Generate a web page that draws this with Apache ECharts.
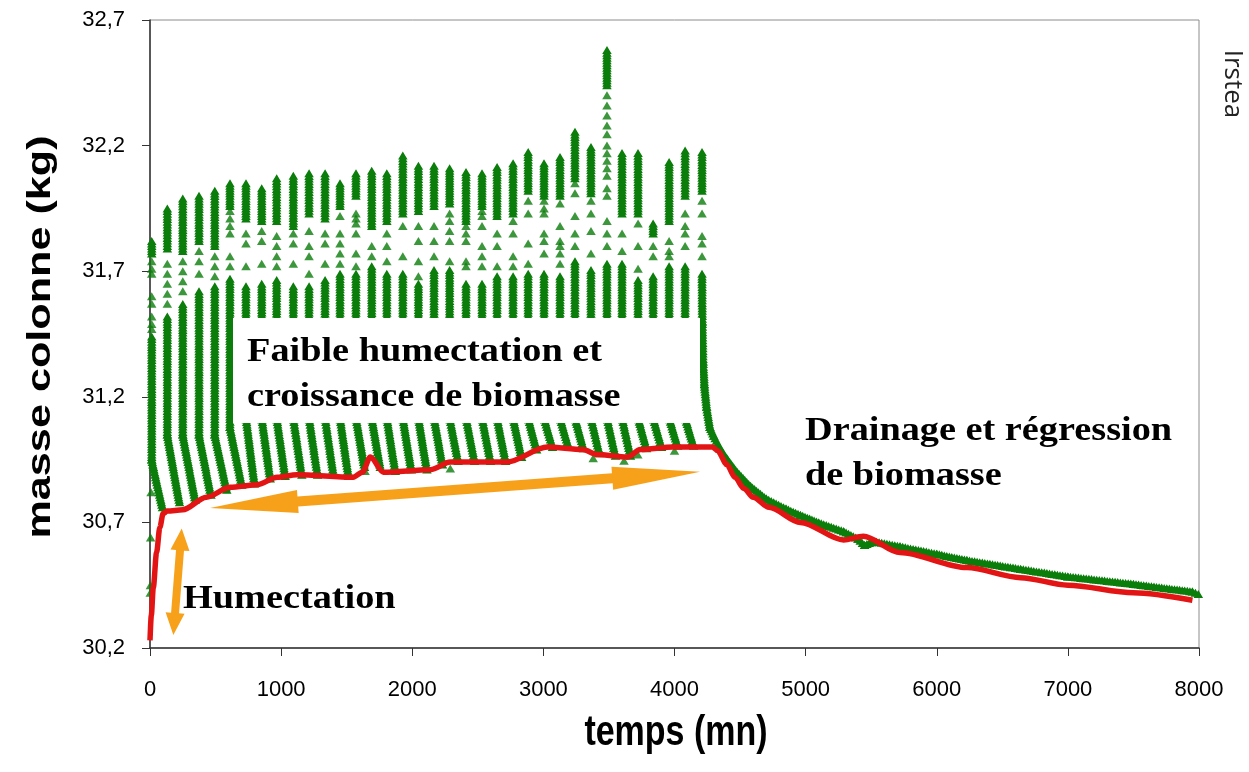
<!DOCTYPE html>
<html>
<head>
<meta charset="utf-8">
<title>masse colonne</title>
<script src="https://cdn.jsdelivr.net/npm/echarts@6/dist/echarts.min.js"></script>
<style>
  html, body { margin: 0; padding: 0; background: #fff; }
  #chart { width: 1249px; height: 772px; }
</style>
</head>
<body>
<div id="chart"></div>
<script>
// axes
const xTicks = [0, 1000, 2000, 3000, 4000, 5000, 6000, 7000, 8000]
const yTicks = [30.2, 30.7, 31.2, 31.7, 32.2, 32.7]

// wetting cycles (one column of triangles each)
const cycleT = [13, 132, 250, 374, 494, 610, 732, 852, 966, 1093, 1213, 1335, 1449, 1571, 1691, 1806, 1928, 2047, 2166, 2285,
  2410, 2532, 2647, 2769, 2884, 3005, 3127, 3241, 3363, 3485, 3600, 3722, 3837, 3959, 4081, 4210]
const peakMass = [31.82, 31.95, 31.99, 32.00, 32.02, 32.05, 32.05, 32.03, 32.07, 32.08, 32.09, 32.09, 32.05, 32.09, 32.10, 32.09, 32.16, 32.12, 32.12, 32.11,
  32.095, 32.09, 32.115, 32.13, 32.175, 32.13, 32.155, 32.255, 32.195, 32.58, 32.17, 32.17, 31.89, 32.135, 32.18, 32.175]
const topLowMass = [31.77, 31.79, 31.78, 31.82, 31.80, 31.96, 31.91, 31.90, 31.90, 31.88, 31.93, 31.91, 31.96, 32.00, 31.88, 31.90, 31.93, 31.94, 31.96, 31.97,
  31.90, 31.96, 31.92, 31.93, 32.02, 32.00, 32.00, 32.07, 32.01, 32.44, 31.93, 31.93, 31.85, 31.90, 32.00, 32.02]
const lowerTopMass = [31.44, 31.52, 31.57, 31.62, 31.64, 31.67, 31.64, 31.65, 31.665, 31.64, 31.64, 31.665, 31.69, 31.69, 31.72, 31.69, 31.69, 31.65, 31.705, 31.705,
  31.65, 31.65, 31.68, 31.68, 31.69, 31.69, 31.68, 31.74, 31.705, 31.73, 31.73, 31.665, 31.68, 31.72, 31.72, 31.69]
const kneeMass = [30.95, 31.05, 31.05, 31.05, 31.05, 31.08, 31.12, 31.12, 31.12, 31.12, 31.12, 31.12, 31.12, 31.12, 31.12, 31.12, 31.12, 31.12, 31.12, 31.12,
  31.12, 31.12, 31.12, 31.12, 31.12, 31.12, 31.12, 31.12, 31.12, 31.12, 31.12, 31.12, 31.12, 31.12, 31.12, null]
const tailEndT = [95, 225, 345, 465, 585, 700, 797, 917, 1031, 1158, 1278, 1400, 1514, 1636, 1756, 1871, 1993, 2112, 2231, 2350,
  2475, 2597, 2712, 2834, 2949, 3070, 3192, 3306, 3428, 3550, 3665, 3787, 3902, 4024, 4146, null]
const tailEndMass = [30.76, 30.78, 30.79, 30.81, 30.83, 30.85, 30.855, 30.875, 30.885, 30.89, 30.89, 30.89, 30.885, 30.92, 30.92, 30.905, 30.91, 30.91, 30.93, 30.945,
  30.945, 30.945, 30.945, 30.96, 30.99, 31.0, 31.0, 30.995, 30.975, 30.965, 30.965, 30.995, 31.0, 31.005, 31.005, null]
const sparseMass = [
  [31.74, 31.71, 31.69, 31.60, 31.57, 31.52, 31.49, 31.47],
  [31.73, 31.69, 31.65, 31.61, 31.57],
  [31.74, 31.70, 31.66, 31.62],
  [31.78, 31.74, 31.69],
  [31.76, 31.72, 31.68],
  [31.94, 31.91, 31.88, 31.85, 31.76, 31.72],
  [31.85, 31.81, 31.72],
  [31.86, 31.82, 31.73],
  [31.84, 31.80, 31.76, 31.72],
  [31.85, 31.81, 31.73],
  [31.86, 31.80, 31.76, 31.69],
  [31.85, 31.81, 31.73],
  [31.92, 31.85, 31.81, 31.77, 31.73],
  [31.93, 31.91, 31.89, 31.85, 31.77, 31.72],
  [31.80, 31.76],
  [31.85, 31.80, 31.74],
  [31.88, 31.76],
  [31.88, 31.82, 31.74, 31.68],
  [31.88, 31.82, 31.76],
  [31.93, 31.90, 31.86, 31.82, 31.74],
  [31.88, 31.85, 31.82, 31.74, 31.72],
  [31.94, 31.92, 31.88, 31.80, 31.76, 31.72],
  [31.85, 31.80, 31.72],
  [31.90, 31.85, 31.76, 31.72],
  [31.98, 31.93, 31.81, 31.73],
  [31.98, 31.95, 31.93, 31.85, 31.82, 31.77],
  [31.97, 31.88, 31.82, 31.80, 31.77, 31.73],
  [32.05, 32.01, 31.92, 31.85, 31.80],
  [31.98, 31.93, 31.86, 31.77],
  [32.40, 32.36, 32.32, 32.28, 32.245, 32.20, 32.17, 32.14, 32.11, 32.08, 32.03, 32.00, 31.90, 31.85, 31.80],
  [31.85, 31.78],
  [31.89, 31.80, 31.71],
  [31.80, 31.76],
  [31.82, 31.78, 31.76],
  [31.93, 31.88, 31.85, 31.80],
  [31.98, 31.93, 31.84, 31.81, 31.76]
]
// single points at the very start and a few strays below the tails
const strayT = [2, 3, 5, 8, 1640, 2290, 3380, 3615, 3720, 4000]
const strayMass = [30.42, 30.45, 30.64, 30.82, 30.905, 30.915, 30.955, 30.945, 30.97, 30.985]

// drainage after the last wetting
const drainT = [4210, 4212, 4218, 4228, 4245, 4270, 4300, 4350, 4400, 4480, 4580, 4700, 4850, 4960, 5100, 5290, 5400, 5450, 5520, 5720, 6000, 6230, 6640, 7000, 7500, 7950, 7995]
const drainMass = [31.69, 31.50, 31.34, 31.25, 31.16, 31.08, 31.045, 30.995, 30.955, 30.90, 30.845, 30.795, 30.755, 30.73, 30.70, 30.665, 30.635, 30.61, 30.625, 30.605, 30.575, 30.55, 30.515, 30.485, 30.455, 30.425, 30.415]

// red baseline
const baseT = [0, 10, 25, 50, 75, 100, 130, 250, 430, 610, 820, 970, 1120, 1550, 1620, 1680, 1780, 2140, 2290, 2720, 3030, 3300, 3410, 3640, 3740, 3990, 4290,
  4330, 4400, 4460, 4530, 4600, 4720, 4960, 5290, 5440, 5720, 6230, 6640, 7000, 7500, 7950]
const baseMass = [30.23, 30.33, 30.44, 30.58, 30.68, 30.735, 30.745, 30.75, 30.80, 30.84, 30.85, 30.88, 30.89, 30.88, 30.90, 30.96, 30.90, 30.91, 30.94, 30.94, 31.00, 30.99, 30.97, 30.96, 30.99, 31.00, 31.00,
  30.985, 30.93, 30.88, 30.835, 30.80, 30.76, 30.70, 30.63, 30.645, 30.58, 30.52, 30.48, 30.45, 30.42, 30.39]

// orange arrows (tip to tip)
const arrowFrom = [[458, 30.757], [242, 30.676]]
const arrowTo = [[4195, 30.902], [178, 30.252]]

const green = '#0b7d0b'
const red = '#e31414'
const orange = '#f7a11a'
const triW = 9.5
const triH = 8
const triStep = 2.6

// build the dense stretches of triangles as segments [t1, m1, t2, m2]
let denseSegs = []
let sparsePts = []
for (let i = 0; i < cycleT.length; i++) {
  let t = cycleT[i]
  denseSegs.push([t, peakMass[i], t, topLowMass[i]])
  sparseMass[i].forEach(m => sparsePts.push([t, m]))
  if (kneeMass[i] != null) {
    denseSegs.push([t, lowerTopMass[i], t, kneeMass[i]])
    denseSegs.push([t, kneeMass[i], tailEndT[i], tailEndMass[i]])
  }
}
for (let j = 0; j < drainT.length - 1; j++) {
  denseSegs.push([drainT[j], drainMass[j], drainT[j + 1], drainMass[j + 1]])
}
strayT.forEach((t, k) => sparsePts.push([t, strayMass[k]]))

function renderDense (params, api) {
  let a = api.coord([api.value(0), api.value(1)])
  let b = api.coord([api.value(2), api.value(3)])
  let dx = b[0] - a[0]
  let dy = b[1] - a[1]
  let n = Math.max(1, Math.round(Math.hypot(dx, dy) / triStep))
  let d = ''
  for (let k = 0; k <= n; k++) {
    let x = a[0] + dx * k / n
    let y = a[1] + dy * k / n
    d += 'M' + x.toFixed(1) + ' ' + (y - triH / 2).toFixed(1) +
      'L' + (x + triW / 2).toFixed(1) + ' ' + (y + triH / 2).toFixed(1) +
      'L' + (x - triW / 2).toFixed(1) + ' ' + (y + triH / 2).toFixed(1) + 'Z'
  }
  return {type: 'path', shape: {pathData: d}, style: {fill: green}}
}

// arrow sizes: [shaft width, head width, head length]
const arrowStyle = [[10, 23, 88], [8, 19, 22]]
function renderArrow (params, api) {
  let a = api.coord([api.value(0), api.value(1)])
  let b = api.coord([api.value(2), api.value(3)])
  let s = arrowStyle[params.dataIndex]
  let len = Math.hypot(b[0] - a[0], b[1] - a[1])
  let ux = (b[0] - a[0]) / len
  let uy = (b[1] - a[1]) / len
  let nx = -uy
  let ny = ux
  let p = (base, along, side) => [base[0] + ux * along + nx * side, base[1] + uy * along + ny * side]
  let pts = [
    a,
    p(a, s[2], s[1] / 2), p(a, s[2], s[0] / 2),
    p(b, -s[2], s[0] / 2), p(b, -s[2], s[1] / 2),
    b,
    p(b, -s[2], -s[1] / 2), p(b, -s[2], -s[0] / 2),
    p(a, s[2], -s[0] / 2), p(a, s[2], -s[1] / 2)
  ]
  return {type: 'polygon', shape: {points: pts}, style: {fill: orange}}
}

const serif = 'bold 33px "Liberation Serif", "Times New Roman", serif'
function note (text, x, y) {
  return {type: 'text', z: 51, x: x, y: y, scaleX: 1.16,
    style: {text: text, font: serif, fill: '#000', align: 'left', verticalAlign: 'middle', textAlign: 'left', textVerticalAlign: 'middle'}}
}

const tickFont = '"Liberation Sans", Arial, sans-serif'

let chart = echarts.init(document.getElementById('chart'))
chart.setOption({
  animation: false,
  backgroundColor: '#fff',
  grid: {left: 150, right: 50, top: 20, bottom: 124, show: true, borderColor: '#8c8c8c', borderWidth: 1},
  xAxis: {
    type: 'value', min: xTicks[0], max: xTicks[xTicks.length - 1], interval: xTicks[1] - xTicks[0],
    axisLine: {show: true, lineStyle: {color: '#333', width: 1.5}},
    axisTick: {show: true, inside: false, length: 8, lineStyle: {color: '#333'}},
    axisLabel: {margin: 31, color: '#000', fontSize: 22, fontFamily: tickFont, formatter: v => String(v)},
    splitLine: {show: false}
  },
  yAxis: {
    type: 'value', min: yTicks[0], max: yTicks[yTicks.length - 1], interval: 0.5,
    axisLine: {show: true, lineStyle: {color: '#333', width: 1.5}},
    axisTick: {show: true, inside: false, length: 8, lineStyle: {color: '#333'}},
    axisLabel: {margin: 25, color: '#000', fontSize: 22, fontFamily: tickFont,
      formatter: v => v.toFixed(1).replace('.', ',')},
    splitLine: {show: false}
  },
  series: [
    {
      type: 'custom', silent: true, z: 2, renderItem: renderDense,
      encode: {x: [0, 2], y: [1, 3]}, data: denseSegs
    },
    {
      type: 'scatter', silent: true, z: 2, symbol: 'triangle', symbolSize: [triW, triH],
      itemStyle: {color: green}, data: sparsePts
    },
    {
      type: 'line', silent: true, z: 3, symbol: 'none', smooth: 0.3, smoothMonotone: 'x',
      lineStyle: {color: red, width: 5.5},
      data: baseT.map((t, i) => [t, baseMass[i]])
    },
    {
      type: 'custom', silent: true, z: 4, renderItem: renderArrow,
      encode: {x: [0, 2], y: [1, 3]},
      data: arrowFrom.map((f, i) => [f[0], f[1], arrowTo[i][0], arrowTo[i][1]])
    }
  ],
  graphic: [
    {type: 'rect', z: 50, shape: {x: 233, y: 318, width: 467, height: 105}, style: {fill: '#fff'}},
    note('Faible humectation et', 247, 352),
    note('croissance de biomasse', 247, 397),
    note('Humectation', 183, 599),
    note('Drainage et régression', 805, 431),
    note('de biomasse', 805, 476),
    {type: 'text', z: 51, x: 41, y: 337, rotation: Math.PI / 2, scaleX: 1.27,
      style: {text: 'masse colonne (kg)', font: 'bold 34px "Liberation Sans", Arial, sans-serif', fill: '#000',
        align: 'center', verticalAlign: 'middle', textAlign: 'center', textVerticalAlign: 'middle'}},
    {type: 'text', z: 51, x: 676, y: 733, scaleY: 1.27,
      style: {text: 'temps (mn)', font: 'bold 34px "Liberation Sans", Arial, sans-serif', fill: '#000',
        align: 'center', verticalAlign: 'middle', textAlign: 'center', textVerticalAlign: 'middle'}},
    {type: 'text', z: 51, x: 1232, y: 84, rotation: -Math.PI / 2,
      style: {text: 'Irstea', font: '26px "Open Sans", sans-serif', fill: '#222',
        align: 'center', verticalAlign: 'middle', textAlign: 'center', textVerticalAlign: 'middle'}}
  ]
})
</script>
</body>
</html>
